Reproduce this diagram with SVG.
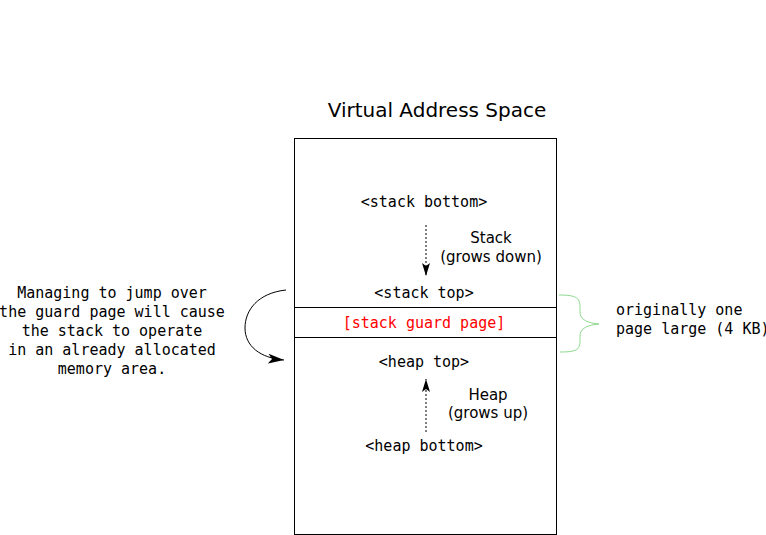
<svg xmlns="http://www.w3.org/2000/svg" width="766" height="535" viewBox="0 0 766 535">
<style>
.mono{font-family:"DejaVu Sans Mono",monospace;font-size:15px;fill:#000}
.sans{font-family:"DejaVu Sans",sans-serif;font-size:15px;fill:#000}
.line{stroke:#000;stroke-width:1;fill:none}
</style>
<defs>
<marker id="ah" viewBox="0 0 13 8" refX="13" refY="4" markerWidth="13" markerHeight="8" orient="auto" markerUnits="userSpaceOnUse">
<path d="M0,0 L13,4 L0,8 L3,4 Z" fill="#000"/>
</marker>
<marker id="ah2" viewBox="0 0 16 10" refX="16" refY="5" markerWidth="16" markerHeight="10" orient="auto" markerUnits="userSpaceOnUse">
<path d="M0,0 L16,5 L0,10 L4,5 Z" fill="#000"/>
</marker>
</defs>
<rect width="766" height="535" fill="#fff"/>
<text x="437" y="117" font-family="DejaVu Sans, sans-serif" font-size="20" text-anchor="middle">Virtual Address Space</text>
<g id="memory">
<rect x="294.5" y="138.5" width="262" height="396" class="line"/>
<line x1="294" y1="307.5" x2="556" y2="307.5" class="line"/>
<line x1="294" y1="337.5" x2="556" y2="337.5" class="line"/>
</g>
<g id="stack-bottom"><text class="mono" x="424" y="207" text-anchor="middle">&lt;stack bottom&gt;</text></g>
<g id="stack-top"><text class="mono" x="424" y="298" text-anchor="middle">&lt;stack top&gt;</text></g>
<g id="guard"><text class="mono" x="424" y="328" text-anchor="middle" style="fill:#f00">[stack guard page]</text></g>
<g id="heap-top"><text class="mono" x="424" y="367" text-anchor="middle">&lt;heap top&gt;</text></g>
<g id="heap-bottom"><text class="mono" x="424" y="451" text-anchor="middle">&lt;heap bottom&gt;</text></g>
<g id="stack-label"><text class="sans" x="491" y="243" text-anchor="middle">Stack</text><text class="sans" x="491" y="262" text-anchor="middle">(grows down)</text></g>
<g id="heap-label"><text class="sans" x="488" y="400" text-anchor="middle">Heap</text><text class="sans" x="488" y="418" text-anchor="middle">(grows up)</text></g>
<g id="note"><text class="mono" text-anchor="middle"><tspan x="112" y="298">Managing to jump over</tspan><tspan x="112" y="317">the guard page will cause</tspan><tspan x="112" y="336">the stack to operate</tspan><tspan x="112" y="355">in an already allocated</tspan><tspan x="112" y="374">memory area.</tspan></text></g>
<g id="size-note"><text class="mono"><tspan x="616" y="315">originally one</tspan><tspan x="616" y="334">page large (4 KB)</tspan></text></g>
<g id="connectors">
<line x1="426" y1="225" x2="426" y2="276" stroke="#000" stroke-dasharray="2,2" marker-end="url(#ah)"/>
<line x1="426" y1="432" x2="426" y2="379" stroke="#000" stroke-dasharray="2,2" marker-end="url(#ah)"/>
<path d="M286,290 C258,293 245,310 245,328 C245,346 260,358 284,360" class="line" marker-end="url(#ah2)"/>
<path d="M559,295 C581,295 580,300 580,312 C580,320 588,323 599,324 C588,325 580,328 580,336 C580,348 581,352 560,352" fill="none" stroke="#8fd88f" stroke-width="1"/>
</g>
</svg>
